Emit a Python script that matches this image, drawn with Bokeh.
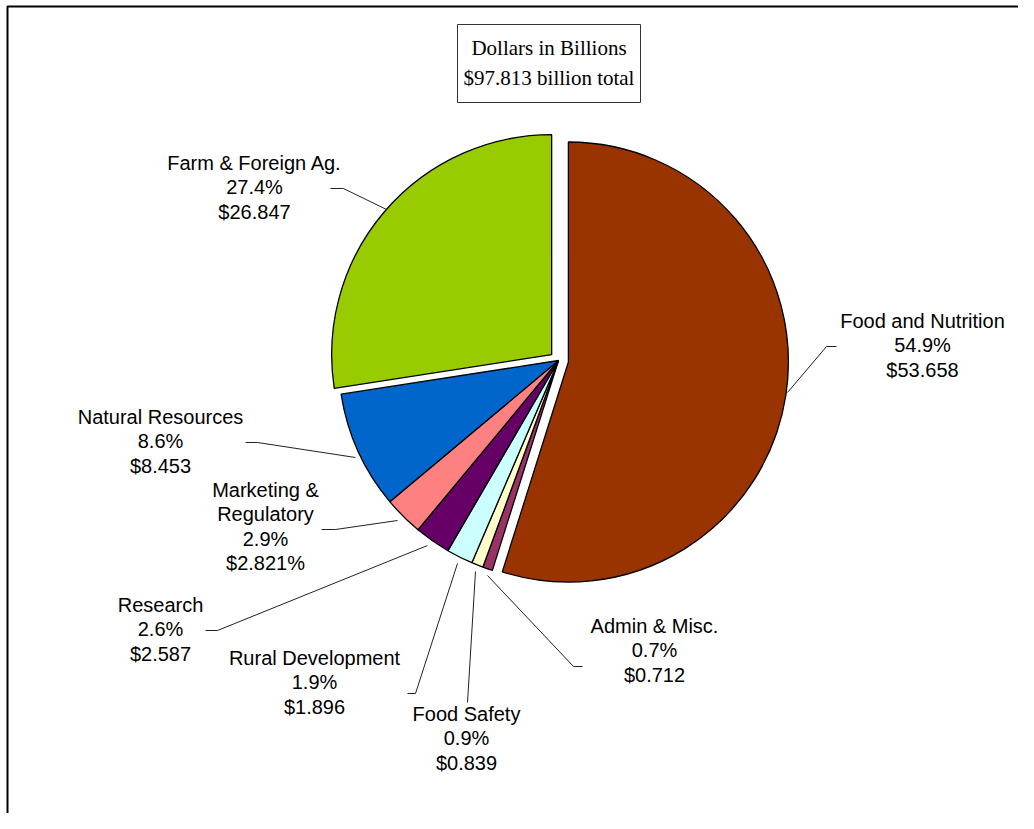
import math
from bokeh.plotting import figure
from bokeh.models import Range1d, ColumnDataSource
from bokeh.core.properties import value
from bokeh.embed import file_html
from bokeh.resources import INLINE

# ---- data (clockwise from 12 o'clock) ----
categories = ["Food and Nutrition", "Admin & Misc.", "Food Safety", "Rural Development",
              "Research", "Marketing & Regulatory", "Natural Resources", "Farm & Foreign Ag."]
name_lines = [["Food and Nutrition"], ["Admin & Misc."], ["Food Safety"], ["Rural Development"],
              ["Research"], ["Marketing &", "Regulatory"], ["Natural Resources"], ["Farm & Foreign Ag."]]
values = [53.658, 0.712, 0.839, 1.896, 2.587, 2.821, 8.453, 26.847]
pct_labels = ["54.9%", "0.7%", "0.9%", "1.9%", "2.6%", "2.9%", "8.6%", "27.4%"]
value_labels = ["$53.658", "$0.712", "$0.839", "$1.896", "$2.587", "$2.821%", "$8.453", "$26.847"]
colors = ["#993300", "#993366", "#FFFFCC", "#CCFFFF", "#660066", "#FF8080", "#0066CC", "#99CC00"]
explode = [10, 0, 0, 0, 0, 0, 0, 9]
title_lines = ["Dollars in Billions", "$97.813 billion total"]

# ---- layout (pixel coordinates of the reference picture) ----
W, H = 1018, 813
def Y(sy):
    return H - sy

CX, CY, R = 558, 360, 220
label_pos = [(922, 320), (654, 625), (466, 713), (314, 657),
             (160, 604), (265, 489), (160, 416), (254, 162)]
LINE_SP = 24.5
leaders = [
    [(787, 392), (826, 346), (836, 346)],
    [(487, 575), (573, 666), (582, 666)],
    [(475, 571), (467, 702)],
    [(457, 563), (415, 693), (407, 693)],
    [(427, 545), (217, 630), (205, 630)],
    [(397, 520), (335, 529), (321, 529)],
    [(355, 457), (257, 442), (245, 442)],
    [(386, 209), (343, 188), (330, 188)],
]

p = figure(width=W, height=H, output_backend="svg", toolbar_location=None,
           x_range=Range1d(0, W), y_range=Range1d(0, H),
           min_border=0, min_border_left=0, min_border_right=0,
           min_border_top=0, min_border_bottom=0)
p.axis.visible = False
p.grid.visible = False
p.outline_line_color = None
p.background_fill_color = "white"
p.border_fill_color = "white"

# frame border (top and left visible in the reference)
p.line(x=[7, 7, W], y=[Y(H + 5), Y(6), Y(6)], line_color="black", line_width=2)

# wedges
total = sum(values)
xs, ys, sa, ea = [], [], [], []
cum = 0.0
for v, d in zip(values, explode):
    a0 = cum / total * 2 * math.pi
    a1 = (cum + v) / total * 2 * math.pi
    mid = (a0 + a1) / 2
    xs.append(CX + d * math.sin(mid))
    ys.append(Y(CY) + d * math.cos(mid))
    sa.append(math.pi / 2 - a0)
    ea.append(math.pi / 2 - a1)
    cum += v
src = ColumnDataSource(dict(x=xs, y=ys, start=sa, end=ea, color=colors, cat=categories, val=values))
p.wedge(x="x", y="y", radius=R, start_angle="start", end_angle="end", direction="clock",
        fill_color="color", line_color="black", line_width=1.3, source=src)

# leader lines
p.multi_line(xs=[[pt[0] for pt in L] for L in leaders],
             ys=[[Y(pt[1]) for pt in L] for L in leaders],
             line_color="#222222", line_width=1)

# labels
tx, ty, tt = [], [], []
for (lx, ly), nl, pc, vl in zip(label_pos, name_lines, pct_labels, value_labels):
    lines = nl + [pc, vl]
    for i, s in enumerate(lines):
        tx.append(lx)
        ty.append(Y(ly + i * LINE_SP))
        tt.append(s)
p.text(x=tx, y=ty, text=tt, text_font=value("Liberation Sans"), text_font_size="20px",
       text_align="center", text_baseline="middle", text_color="black")

# title box
p.quad(left=[457], right=[640], top=[Y(24)], bottom=[Y(102)],
       fill_color="white", line_color="#333333", line_width=1)
p.text(x=[548.5, 548.5], y=[Y(47), Y(77)], text=title_lines,
       text_font=value("Liberation Serif"), text_font_size="21px",
       text_align="center", text_baseline="middle", text_color="black")

open("out.html", "w").write(file_html(p, INLINE))
